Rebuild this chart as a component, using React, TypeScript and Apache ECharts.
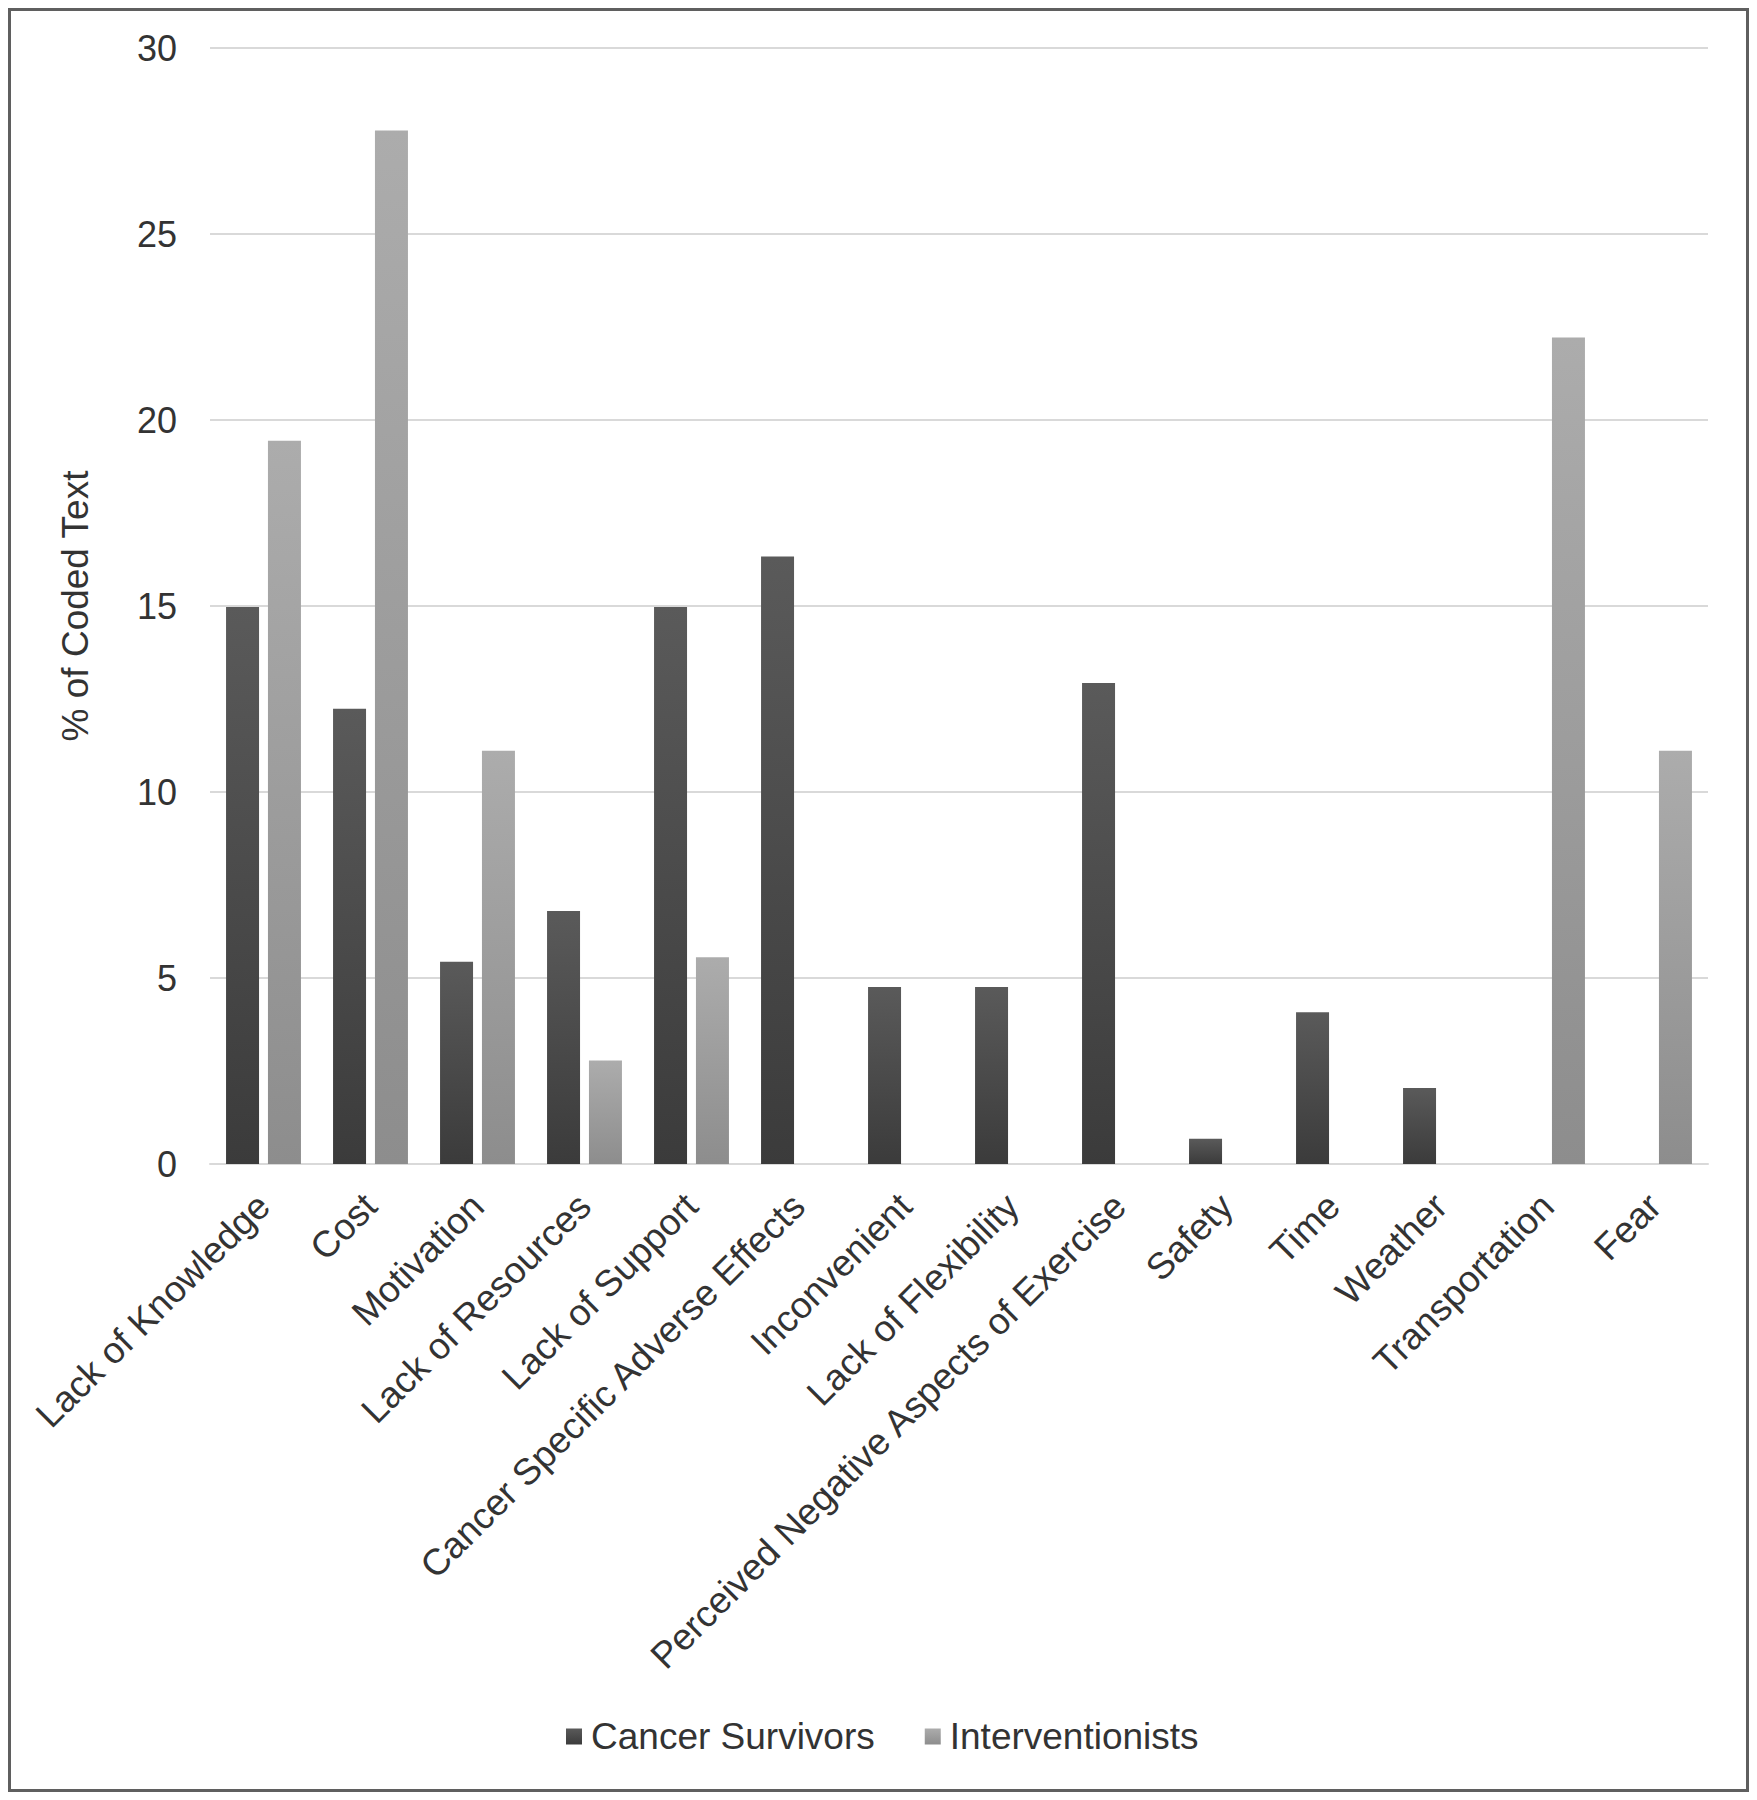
import React, { useEffect, useRef } from "react";
import * as echarts from "echarts";

const categories = [
  "Lack of Knowledge",
  "Cost",
  "Motivation",
  "Lack of Resources",
  "Lack of Support",
  "Cancer Specific Adverse Effects",
  "Inconvenient",
  "Lack of Flexibility",
  "Perceived Negative Aspects of Exercise",
  "Safety",
  "Time",
  "Weather",
  "Transportation",
  "Fear",
];

const cancerSurvivors = [14.97, 12.24, 5.44, 6.8, 14.97, 16.33, 4.76, 4.76, 12.93, 0.68, 4.08, 2.04, 0, 0];
const interventionists = [19.44, 27.78, 11.11, 2.78, 5.56, 0, 0, 0, 0, 0, 0, 0, 22.22, 11.11];

const yTicks = { min: 0, max: 30, interval: 5 };
const yAxisTitle = "% of Coded Text";
const seriesNames = ["Cancer Survivors", "Interventionists"];

const FONT = "'Liberation Sans', Arial, sans-serif";
const TEXT = "#333333";

export default function App() {
  const ref = useRef<HTMLDivElement>(null);

  useEffect(() => {
    if (!ref.current) return;
    const chart = echarts.init(ref.current, null, { renderer: "svg" });
    const grad = (top: string, bottom: string) =>
      new echarts.graphic.LinearGradient(0, 0, 0, 1, [
        { offset: 0, color: top },
        { offset: 1, color: bottom },
      ]);
    chart.setOption({
      animation: false,
      backgroundColor: "#ffffff",
      textStyle: { fontFamily: FONT },
      grid: { left: 199, right: 38, top: 37, bottom: 625, containLabel: false },
      legend: {
        left: 550,
        top: 1702,
        itemWidth: 16,
        itemHeight: 16,
        itemGap: 50,
        icon: "rect",
        textStyle: { fontFamily: FONT, fontSize: 37, color: TEXT, padding: [0, 0, 0, 4] },
        data: seriesNames,
      },
      xAxis: {
        type: "category",
        data: categories,
        axisLine: { show: true, lineStyle: { color: "#d9d9d9", width: 2 } },
        axisTick: { show: false },
        axisLabel: {
          rotate: 45,
          interval: 0,
          margin: 36,
          fontSize: 37,
          fontFamily: FONT,
          color: TEXT,
        },
      },
      yAxis: {
        type: "value",
        min: yTicks.min,
        max: yTicks.max,
        interval: yTicks.interval,
        name: yAxisTitle,
        nameLocation: "middle",
        nameGap: 116,
        nameTextStyle: { fontSize: 37, fontFamily: FONT, color: TEXT },
        axisLine: { show: false },
        axisTick: { show: false },
        axisLabel: { margin: 33, fontSize: 36, fontFamily: FONT, color: TEXT },
        splitLine: { lineStyle: { color: "#d9d9d9", width: 2 } },
      },
      series: [
        {
          name: seriesNames[0],
          type: "bar",
          data: cancerSurvivors,
          barWidth: 33,
          barGap: "27%",
          itemStyle: { color: grad("#5a5a5a", "#3b3b3b") },
        },
        {
          name: seriesNames[1],
          type: "bar",
          data: interventionists,
          barWidth: 33,
          barGap: "27%",
          itemStyle: { color: grad("#acacac", "#8d8d8d") },
        },
      ],
    });
    return () => chart.dispose();
  }, []);

  return (
    <div
      style={{
        width: 1741,
        height: 1784,
        border: "3px solid #5f5f5f",
        boxSizing: "border-box",
        background: "#fff",
      }}
    >
      <div ref={ref} style={{ width: 1735, height: 1778 }} />
    </div>
  );
}
